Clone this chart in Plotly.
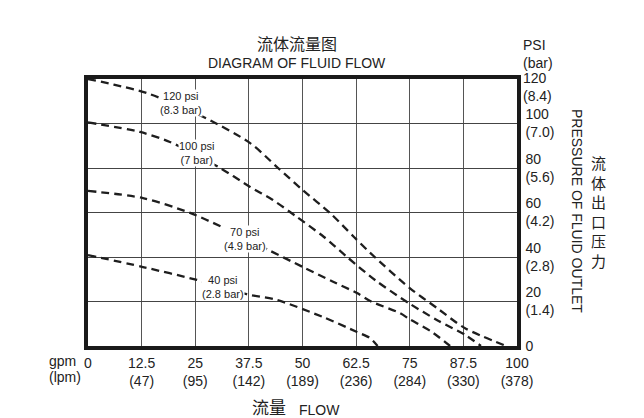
import plotly.graph_objects as go

# ---- data (gpm, psi) ----
flow_120 = [0, 6, 13.7, 26.8, 37.8, 44.3, 50.1, 56.4, 62, 65.7, 75, 81.4, 87.9, 97.5]
psi_120 = [120, 117.5, 113.7, 103, 91.2, 80, 70, 59.8, 49, 42, 26, 17, 8, 0]

flow_100 = [0, 12.1, 19.1, 30.8, 37.8, 43.1, 48.7, 55, 60.4, 67, 75, 81.5, 87.9, 91.6]
psi_100 = [100.5, 96.2, 91.7, 80, 71.5, 65.6, 58, 49, 40, 29.5, 19, 11.5, 5, 0]

flow_70 = [0, 12.8, 23.8, 31.2, 41.7, 50.1, 57, 62.7, 66, 72.7, 75, 80, 84.4]
psi_70 = [69.7, 66.5, 59.8, 53.5, 43.5, 35.5, 29, 23.8, 20, 14.8, 12, 6.5, 0]

flow_40 = [0, 12.8, 25.4, 37, 44, 54.8, 62.7, 65.7, 67.5]
psi_40 = [40.9, 35.5, 29.7, 23.3, 20.7, 13, 6.3, 3.6, 0]

curve_labels = ["120 psi<br>(8.3 bar)", "100 psi<br>(7 bar)", "70 psi<br>(4.9 bar)", "40 psi<br>(2.8 bar)"]
label_flow = [21.7, 25.2, 36.6, 31.5]
label_psi = [109, 86.7, 48, 26.5]

gpm_ticks = [0, 12.5, 25, 37.5, 50, 62.5, 75, 87.5, 100]
gpm_text = ["0", "12.5", "25", "37.5", "50", "62.5", "75", "87.5", "100"]
lpm_text = ["", "(47)", "(95)", "(142)", "(189)", "(236)", "(284)", "(330)", "(378)"]

psi_ticks = [0, 20, 40, 60, 80, 100]
psi_text = ["0", "20", "40", "60", "80", "100"]
bar_text = ["", "(1.4)", "(2.8)", "(4.2)", "(5.6)", "(7.0)"]
top_psi, top_bar = "120", "(8.4)"

# ---- layout geometry (pixels, in the 644x418 window) ----
OFF = 8  # page body margin
W, H = 644 - OFF, 418 - OFF
L, R, T, B = 88, 517, 79, 346
FONT = "Liberation Sans, Arial, Noto Sans CJK SC, sans-serif"
CJK = "Noto Sans CJK SC, sans-serif"
INK = "#222222"


def px(xp):
    return (xp - L) / (R - L)


def py(yp):
    return (B - yp) / (B - T)


fig = go.Figure()
for fx, fy in [(flow_120, psi_120), (flow_100, psi_100), (flow_70, psi_70), (flow_40, psi_40)]:
    fig.add_trace(go.Scatter(
        x=fx, y=fy, mode="lines",
        line=dict(color="#1e1e1e", width=2.3, dash="8px,5px", shape="spline", smoothing=0.8),
        hoverinfo="skip", showlegend=False,
    ))

ann = []
for t, lx, ly in zip(curve_labels, label_flow, label_psi):
    ann.append(dict(x=lx, y=ly, xref="x", yref="y", text=t,
                    font=dict(family=FONT, size=11, color=INK), bgcolor="white",
                    borderpad=0, align="center"))

ann += [
    dict(x=px(297), y=py(43), text="流体流量图", font=dict(family=CJK, size=16, color=INK)),
    dict(x=px(297), y=py(63), text="DIAGRAM OF FLUID FLOW", font=dict(family=FONT, size=14, color=INK)),
    dict(x=px(521), y=py(54), text="PSI<br>(bar)", xanchor="left", align="left",
         font=dict(family=FONT, size=14, color=INK)),
    dict(x=px(521), y=py(87), text=top_psi + "<br>" + top_bar, xanchor="left", align="left",
         font=dict(family=FONT, size=14, color=INK)),
    dict(x=px(577), y=py(211), text="PRESSURE OF FLUID OUTLET", textangle=90,
         font=dict(family=FONT, size=14, color=INK)),
    dict(x=px(598), y=py(211), text="<br>".join("流体出口压力"),
         font=dict(family=CJK, size=15, color=INK)),
    dict(x=px(47), y=py(361), text="gpm", xanchor="left", font=dict(family=FONT, size=14, color=INK)),
    dict(x=px(47), y=py(377), text="(lpm)", xanchor="left", font=dict(family=FONT, size=14, color=INK)),
    dict(x=px(288), y=py(407), text="流量", xanchor="right", font=dict(family=CJK, size=17, color=INK)),
    dict(x=px(297), y=py(410), text="FLOW", xanchor="left", font=dict(family=FONT, size=14, color=INK)),
]
for a in ann:
    a.setdefault("xref", "paper")
    a.setdefault("yref", "paper")
    a.setdefault("xanchor", "center")
    a.setdefault("yanchor", "middle")
    a["showarrow"] = False

fig.update_layout(
    width=W, height=H,
    margin=dict(l=L - OFF, r=OFF + W - R, t=T - OFF, b=OFF + H - B, pad=0),
    paper_bgcolor="white", plot_bgcolor="white",
    annotations=ann,
    xaxis=dict(
        range=[0, 100], tickvals=gpm_ticks,
        ticktext=[g if not l else g + "<br>" + l for g, l in zip(gpm_text, lpm_text)],
        showgrid=True, gridcolor="#555555", gridwidth=1.2,
        showline=True, linecolor="#1a1a1a", linewidth=3.5, mirror=True,
        ticks="", zeroline=False, ticklabelstandoff=1,
        tickfont=dict(family=FONT, size=14, color=INK),
    ),
    yaxis=dict(
        range=[0, 120], tickvals=psi_ticks,
        ticktext=[p if not b else p + "<br>" + b for p, b in zip(psi_text, bar_text)],
        side="right",
        showgrid=True, gridcolor="#444444", gridwidth=1.2,
        showline=True, linecolor="#1a1a1a", linewidth=3.5, mirror=True,
        ticks="", zeroline=False, ticklabelstandoff=2,
        tickfont=dict(family=FONT, size=14, color=INK),
    ),
)

fig.write_html("out.html")
